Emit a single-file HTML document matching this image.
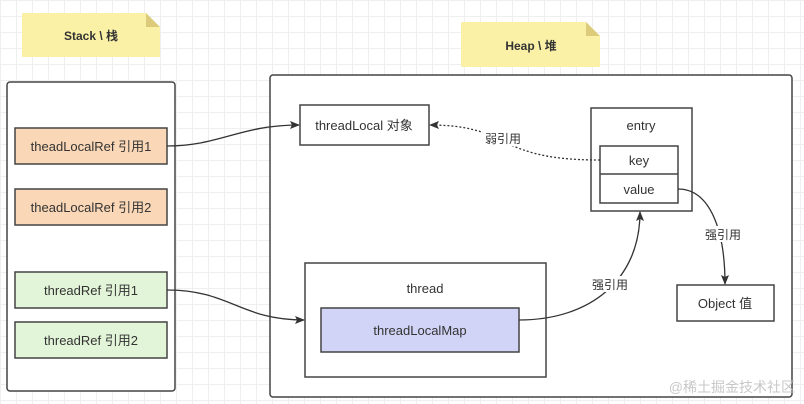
<!DOCTYPE html>
<html><head><meta charset="utf-8"><style>
html,body{margin:0;padding:0}
body{width:804px;height:404px;overflow:hidden;background-color:#fff;
background-image:linear-gradient(#efefef 1px,transparent 1px),linear-gradient(90deg,#efefef 1px,transparent 1px);background-size:16px 16px;
font-family:"Liberation Sans","Noto Sans CJK SC",sans-serif;}
</style></head><body>
<svg width="804" height="404" xmlns="http://www.w3.org/2000/svg" style="position:absolute;left:0;top:0" font-family="Liberation Sans, Noto Sans CJK SC, sans-serif">
<defs><marker id="a" markerWidth="10" markerHeight="8" refX="9" refY="4" orient="auto" markerUnits="userSpaceOnUse"><path d="M0,0 L10,4 L0,8 L2,4 Z" fill="#333"/></marker></defs>
<!-- notes -->
<path d="M22,13 H146 L160,27 V57 H22 Z" fill="#fbf1a6"/><path d="M146,13 V27 H160 Z" fill="#dccb7a"/>
<text x="91" y="40" font-size="12" font-weight="bold" text-anchor="middle" fill="#333">Stack \ 栈</text>
<path d="M461,22 H586 L600,36 V67 H461 Z" fill="#fbf1a6"/><path d="M586,22 V36 H600 Z" fill="#dccb7a"/>
<text x="531" y="50" font-size="12" font-weight="bold" text-anchor="middle" fill="#333">Heap \ 堆</text>
<!-- containers -->
<rect x="7" y="82" width="168" height="309" rx="3" fill="#fff" stroke="#444" stroke-width="1.5"/>
<rect x="270" y="75" width="522" height="322" rx="3" fill="#fff" stroke="#444" stroke-width="1.5"/>
<g font-size="13" fill="#333" text-anchor="middle">
<rect x="15" y="128" width="152" height="36" fill="#fad7b6" stroke="#444" stroke-width="1.5"/><text x="91" y="151">theadLocalRef 引用1</text>
<rect x="15" y="189" width="152" height="36" fill="#fad7b6" stroke="#444" stroke-width="1.5"/><text x="91" y="212">theadLocalRef 引用2</text>
<rect x="15" y="272" width="152" height="36" fill="#e3f5d8" stroke="#444" stroke-width="1.5"/><text x="91" y="295">threadRef 引用1</text>
<rect x="15" y="322" width="152" height="36" fill="#e3f5d8" stroke="#444" stroke-width="1.5"/><text x="91" y="345">threadRef 引用2</text>
<rect x="300" y="105" width="129" height="40" fill="#fff" stroke="#444" stroke-width="1.5"/><text x="364" y="130">threadLocal 对象</text>
<rect x="591" y="108" width="101" height="103" fill="#fff" stroke="#444" stroke-width="1.5"/><text x="641" y="130">entry</text>
<rect x="600" y="146" width="78" height="57" fill="#fff" stroke="#444" stroke-width="1.5"/><line x1="600" y1="174" x2="678" y2="174" stroke="#444" stroke-width="1.5"/>
<text x="639" y="165">key</text><text x="639" y="194">value</text>
<rect x="305" y="263" width="241" height="114" fill="#fff" stroke="#444" stroke-width="1.5"/><text x="425" y="293">thread</text>
<rect x="321" y="308" width="198" height="44" fill="#d1d4f6" stroke="#444" stroke-width="1.5"/><text x="420" y="335">threadLocalMap</text>
<rect x="677" y="285" width="97" height="36" fill="#fff" stroke="#444" stroke-width="1.5"/><text x="725" y="308">Object 值</text>
</g>
<g fill="none" stroke="#333" stroke-width="1.3">
<path d="M167,146 C220,146 240,125 299,125" marker-end="url(#a)"/>
<path d="M167,290 C230,290 240,320 304,320" marker-end="url(#a)"/>
<path d="M600,160 C540,160 520,150 490,135 C470,127 450,125 430,125" stroke-dasharray="2,2" marker-end="url(#a)"/>
<path d="M678,189 C710,189 725,230 725,284" marker-end="url(#a)"/>
<path d="M519,320 C590,320 640,280 640,212" marker-end="url(#a)"/>
</g>
<g font-size="12" fill="#333" text-anchor="middle">
<rect x="482" y="130" width="42" height="16" fill="#fff"/><text x="503" y="143">弱引用</text>
<rect x="702" y="226" width="42" height="16" fill="#fff"/><text x="723" y="239">强引用</text>
<rect x="589" y="276" width="42" height="16" fill="#fff"/><text x="610" y="289">强引用</text>
</g>
<text x="795" y="392" font-size="14" fill="#c8c8c8" text-anchor="end">@稀土掘金技术社区</text>
</svg>
</body></html>
